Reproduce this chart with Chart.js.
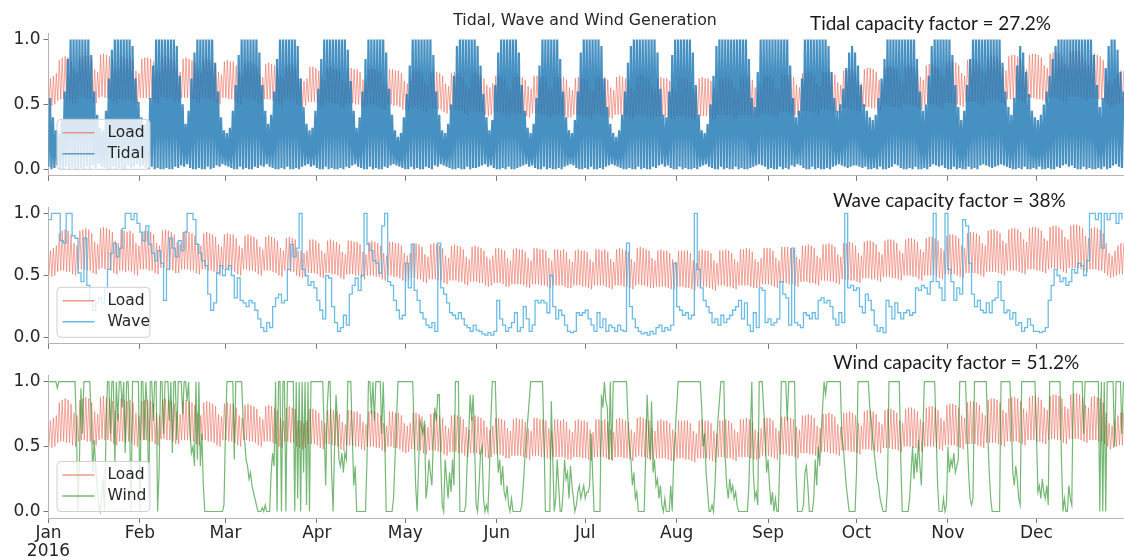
<!DOCTYPE html>
<html>
<head>
<meta charset="utf-8">
<title>Tidal, Wave and Wind Generation</title>
<script src="https://cdn.jsdelivr.net/npm/chart.js@4.4.1/dist/chart.umd.min.js"></script>
<style>
  body { margin: 0; background: #fff; }
  #wrap { position: relative; width: 1124px; height: 557px; overflow: hidden; font-family: "DejaVu Sans", sans-serif; }
  canvas { position: absolute; left: 0; }
  .title { position: absolute; left: 0; width: 1170px; top: 10px; text-align: center; font-size: 15.8px; color: #262626; line-height: 20px; z-index: 2; }
  .cf { position: absolute; font-family: Lato, "Open Sans", sans-serif; font-size: 19px; color: #1a1a1a; line-height: 22px; white-space: nowrap; z-index: 2; }
</style>
</head>
<body>
<div id="wrap">
  <canvas id="tidal" width="1124" height="189" style="top:0"></canvas>
  <canvas id="wave" width="1124" height="163" style="top:194px"></canvas>
  <canvas id="wind" width="1124" height="195" style="top:362px"></canvas>
  <div class="title">Tidal, Wave and Wind Generation</div>
  <div class="cf" style="left:810px; top:12px">Tidal capacity factor = 27.2%</div>
  <div class="cf" style="left:833px; top:189px">Wave capacity factor = 38%</div>
  <div class="cf" style="left:833px; top:351px">Wind capacity factor = 51.2%</div>
</div>
<script>
// x axis: day of year 2016 (0 = 1 Jan), month starts get the ticks
const monthTicks = [0, 31, 60, 91, 121, 152, 182, 213, 244, 274, 305, 335];
const monthLabels = ["Jan", "Feb", "Mar", "Apr", "May", "Jun", "Jul", "Aug", "Sep", "Oct", "Nov", "Dec"];
const yearLabel = "2016";
const yTicks = [0, 0.5, 1];

// all series in percent of capacity
// load: daily peak and night trough (first row Fri-Sun, then Mon..Sun weeks)
const loadHigh = [
  70,72,74,
  84,86,87,86,83,76,74, 86,87,88,87,84,77,75, 88,89,88,87,85,78,76, 87,86,85,86,84,76,74,
  85,86,86,85,83,76,74, 86,87,86,85,83,77,75, 85,86,85,84,82,76,74, 84,85,84,83,81,75,73,
  83,84,83,83,80,74,72, 82,83,82,81,79,73,71, 81,82,81,80,78,72,70, 80,81,80,79,70,70,68,
  70,79,79,78,76,70,68, 78,79,78,77,75,69,67, 78,78,77,77,75,69,67, 77,78,77,76,74,68,66,
  77,77,76,76,74,68,66, 68,76,76,75,73,67,65, 75,76,75,74,72,66,64, 74,75,74,73,71,65,63,
  73,74,73,72,70,65,63, 66,72,72,71,70,64,62, 71,72,71,71,69,64,62, 72,72,71,71,70,64,62,
  71,71,70,71,69,63,61, 70,71,70,70,69,63,61, 71,71,70,71,69,63,61, 71,72,71,70,69,63,61,
  72,73,72,71,70,64,62, 70,71,70,70,68,63,61, 70,70,70,70,68,62,60, 70,71,70,70,68,62,60,
  70,70,71,70,68,63,61, 71,71,72,71,69,63,61, 64,72,72,72,70,64,62, 73,73,73,72,71,65,63,
  74,74,75,74,72,66,64, 75,75,76,75,73,67,65, 76,76,77,76,74,68,66, 77,78,78,77,75,69,67,
  78,79,79,78,76,70,68, 79,80,80,79,77,71,69, 80,81,81,80,78,72,70, 82,83,83,82,80,74,72,
  84,85,85,84,82,76,74, 86,87,87,86,84,78,76, 87,88,88,87,85,79,77, 88,89,89,88,86,80,78,
  89,90,90,89,87,81,79, 90,91,91,90,88,82,80, 88,89,88,87,84,76,68, 66,70,74,76,76
];
const loadLow = [
  50,49,50,
  53,54,54,53,53,51,50, 54,55,55,54,54,52,51, 55,56,55,55,54,52,51, 54,54,53,54,53,51,50,
  55,55,55,54,54,52,51, 56,56,55,55,54,52,52, 55,55,55,54,54,52,51, 55,55,54,54,53,51,50,
  55,55,54,54,53,51,50, 55,55,54,54,53,51,50, 54,54,54,53,52,50,49, 54,54,53,53,50,49,48,
  49,52,52,52,51,49,48, 52,52,51,51,50,48,47, 51,51,51,50,50,48,47, 50,50,50,49,49,47,46,
  50,50,49,49,48,46,45, 46,48,48,47,47,45,44, 47,47,47,46,46,44,43, 46,46,46,45,45,43,42,
  45,45,45,44,44,42,41, 42,44,44,44,43,41,41, 43,43,43,43,42,41,40, 43,43,43,42,42,41,40,
  42,42,42,42,41,40,40, 42,42,42,41,41,40,39, 42,42,42,42,41,40,39, 42,42,42,41,41,40,39,
  42,43,42,42,41,40,40, 41,41,41,41,40,39,39, 41,41,41,40,40,39,38, 41,41,41,41,40,39,38,
  42,42,42,41,41,40,39, 42,42,42,42,41,40,40, 41,43,43,43,42,41,40, 44,44,44,43,43,42,41,
  45,45,45,44,44,43,42, 46,46,46,45,45,44,43, 47,47,47,46,46,45,44, 48,48,48,47,47,46,45,
  49,49,49,48,48,47,46, 50,50,50,49,49,47,46, 50,50,50,50,49,48,47, 51,51,51,51,50,49,48,
  52,52,52,52,51,50,49, 53,53,53,53,52,51,50, 54,54,54,54,53,52,51, 55,55,55,54,54,53,52,
  55,56,56,55,55,53,52, 56,56,56,56,55,54,53, 55,55,55,54,54,52,50, 48,49,50,51,51
];

// tidal: daily peak (spring/neap cycle) and slack-water minimum
const tidalHigh = [
  55,40,30,28,38,60,85,100,100,100, 100,100,100,100,88,60,42,32,30,45,
  70,92,100,100,100,100,100,100,95,70, 52,40,35,38,55,80,100,100,100,100,
  100,100,100,95,72,50,35,45,70,90, 100,100,100,100,100,100,82,60,40,30,
  28,32,45,65,88,100,100,100,100,100, 100,90,65,45,35,42,60,85,100,100,
  100,100,100,100,95,70,48,35,30,32, 45,62,85,100,100,100,100,100,100,100,
  100,92,68,45,32,40,60,85,100,100, 100,100,100,100,90,62,42,30,25,28,
  40,58,80,100,100,100,100,100,100,100, 88,60,42,30,28,35,50,72,95,100,
  100,100,100,100,100,95,80,58,40,30, 38,65,90,100,100,100,100,100,100,90,
  65,45,32,28,35,55,80,100,100,100, 100,100,100,85,60,40,30,28,38,60,
  90,100,100,100,100,100,100,95,70,48, 35,28,25,30,42,60,82,95,100,100,
  100,100,100,100,100,100,90,62,42,40, 60,88,100,100,100,100,100,100,90,65,
  42,30,28,35,50,72,95,100,100,100, 100,100,100,100,100,100,100,85,55,48,
  75,100,100,100,100,100,100,100,100,100, 100,80,55,40,45,70,100,100,100,100,
  100,100,100,100,95,75,55,45,50,62, 78,90,95,90,80,65,50,45,40,38,
  42,55,70,85,100,100,100,100,100,100, 100,100,100,100,85,60,45,50,72,95,
  100,100,100,100,100,100,88,65,48,38, 45,65,85,100,100,100,100,100,100,100,
  100,100,100,82,60,48,42,55,80,95, 90,75,58,45,40,38,42,50,60,72,
  85,95,100,100,100,100,100,100,100,100, 100,100,100,100,88,65,48,55,78,95,
  100,100,92,75,60
];
const tidalLow = [
  2,0,1,3,0,0,2,0,1,0, 0,1,0,2,0,3,1,4,2,1, 0,0,2,0,1,0,0,3,1,2, 4,2,3,1,0,2,0,1,0,0,
  1,0,0,2,1,3,2,4,1,0, 0,1,0,0,2,0,1,3,2,4, 3,2,1,0,0,2,0,1,0,0, 2,1,3,2,4,2,1,0,0,1,
  0,2,0,0,1,0,2,3,4,2, 3,1,0,0,2,0,1,0,0,1, 0,2,1,3,4,2,1,0,0,2, 0,1,0,0,2,1,3,4,3,2,
  1,0,0,2,0,1,0,0,2,1, 0,3,2,4,3,2,1,0,0,1, 0,0,2,0,1,1,2,3,4,2, 3,1,0,0,1,0,2,0,0,1,
  2,3,4,2,3,1,0,0,2,0, 1,0,0,1,0,2,3,4,3,1, 0,0,1,0,2,0,0,1,0,2, 3,4,3,2,1,0,0,1,0,0,
  2,0,1,0,0,2,1,3,4,2, 3,1,0,0,2,0,1,0,0,1, 0,2,3,4,2,1,0,0,2,0, 1,0,0,2,0,1,0,0,1,2,
  3,4,3,2,0,1,0,0,2,0, 1,0,3,2,4,3,1,0,0,2, 0,1,0,0,1,0,2,3,4,3, 2,1,2,3,3,2,1,2,0,0,
  1,0,2,0,0,1,2,4,3,1, 0,0,1,0,2,0,0,1,0,2, 4,3,2,3,1,0,0,2,0,1, 0,0,2,0,1,0,3,4,3,2,
  1,2,3,4,3,2,1,0,0,1, 0,2,0,0,1,0,2,0,0,1, 0,0,2,1,3,4,2,3,1,0, 0,2,0,1,0,0,1,0,2,0,
  1,3,4,2,1
];

// wave: one value per day
const wave = [
  95,100,100,100,78,76,100,100,82,80, 52,45,80,42,30,22,28,32,28,40,
  55,68,76,65,72,88,100,100,95,100, 92,85,78,90,75,68,62,70,60,30,
  55,80,72,65,78,70,85,100,100,95, 75,68,62,58,35,22,28,52,58,50,
  55,58,50,32,48,30,28,25,30,28, 22,15,8,5,12,8,25,32,35,28,
  30,55,75,65,72,100,55,50,42,45, 40,30,22,15,50,48,25,12,5,8,
  18,10,35,42,48,38,50,100,75,70, 62,60,52,90,100,45,42,30,22,15,
  18,60,40,75,38,30,20,15,10,8, 12,5,76,40,35,28,20,18,15,20,
  15,10,8,5,10,6,5,3,2,4, 2,5,30,15,10,5,8,12,20,5,
  8,25,15,5,10,30,28,30,28,20, 50,25,15,22,18,10,5,4,5,20,
  18,20,22,15,10,5,20,8,15,5, 10,8,5,10,6,5,76,25,15,8,
  5,3,4,2,5,3,8,10,5,8, 6,10,60,25,22,18,20,15,18,100,
  55,40,30,25,20,12,15,10,18,12, 15,18,22,25,30,15,28,10,5,20,
  8,40,38,12,15,10,12,15,45,35, 32,10,72,12,10,8,20,18,15,20,
  15,30,32,28,30,25,15,10,20,12, 100,40,42,38,40,25,20,35,30,22,
  10,5,8,4,30,25,15,28,20,15, 20,22,18,20,40,38,42,40,35,45,
  100,45,40,30,100,55,45,30,40,35, 95,90,60,35,25,30,22,20,28,20,
  30,32,45,30,20,22,15,20,10,12, 5,8,15,10,5,5,4,5,8,30,
  42,55,50,45,48,42,45,55,52,60, 58,50,62,100,100,95,100,72,100,95,
  100,100,92,100,95
];

// wind: two values per day (00h, 12h)
const wind = [
  100,100,100,100,100,100,95,100,100,100, 100,100,100,100,100,100,100,100,100,60,
  0,40,95,60,100,100,100,100,100,70, 30,55,35,20,5,0,10,25,0,60,
  100,100,60,100,100,35,100,70,100,100, 80,100,45,100,100,65,0,100,100,100,
  100,100,0,100,100,55,100,80,10,100, 100,70,100,100,0,30,100,100,60,100,
  100,100,70,100,45,100,100,55,100,100, 100,75,100,100,85,100,60,45,50,35,
  100,40,100,35,60,20,0,0,0,0, 0,0,0,0,0,0,0,0,0,5,
  60,100,100,100,100,100,40,100,100,100, 100,100,70,55,40,35,25,30,20,15,
  10,5,0,0,0,3,0,5,0,0, 0,30,45,35,100,0,100,100,0,100,
  100,0,100,100,100,100,100,0,100,10, 100,0,100,30,100,5,100,0,100,100,
  100,100,100,100,100,100,100,60,20,80, 100,100,30,0,50,90,70,40,35,45,
  30,45,40,100,100,100,60,20,35,0, 0,0,0,0,0,0,40,100,100,75,
  100,70,100,100,100,100,60,100,60,0, 0,0,0,0,10,40,70,100,100,100,
  100,100,100,100,100,100,100,100,60,20, 0,35,70,65,60,70,10,20,40,30,
  20,55,80,70,90,90,40,5,0,40, 25,10,30,15,40,20,100,100,100,0,
  0,0,0,5,40,60,90,70,90,50, 5,0,20,45,50,10,0,5,0,30,
  70,100,100,100,60,30,40,20,35,15, 10,20,5,0,10,0,0,0,0,0,
  0,5,20,40,55,70,85,100,100,100, 100,100,100,100,100,100,60,0,0,0,
  0,85,40,0,10,40,20,0,0,15, 40,25,30,10,35,20,10,0,5,15,
  20,10,15,20,10,15,15,20,60,30, 0,0,0,0,0,90,80,100,85,80,
  40,100,40,100,100,100,100,100,100,100, 100,100,100,70,50,40,20,30,10,15,
  0,0,0,0,0,45,90,60,40,85, 30,40,20,25,10,20,5,0,10,0,
  0,0,20,0,40,60,80,100,100,100, 100,100,100,100,100,100,100,100,100,100,
  100,100,100,80,50,60,30,15,0,0, 5,0,20,50,70,85,100,100,100,40,
  20,10,25,15,20,10,15,5,0,0, 0,0,0,0,0,20,60,100,30,10,
  15,5,100,100,100,80,60,30,40,20, 5,15,0,10,0,0,40,100,100,100,
  100,70,100,100,100,100,100,30,0,0, 0,0,5,30,35,20,0,0,0,10,
  40,20,50,35,60,80,100,90,100,100, 100,100,100,100,100,100,100,100,60,50,
  35,20,10,0,0,0,0,0,30,100, 100,100,100,100,100,100,100,80,70,55,
  45,35,25,20,10,5,0,0,0,20, 100,100,100,100,100,100,100,100,40,0,
  0,0,0,0,10,30,50,25,45,30, 55,35,20,60,100,100,100,100,100,100,
  100,100,60,20,0,0,0,10,0,5, 50,30,40,35,45,30,35,40,100,100,
  100,100,100,60,30,10,5,10,100,100, 100,100,100,100,100,100,100,60,30,10,
  0,0,0,0,0,0,100,100,100,100, 100,100,100,70,30,20,35,25,10,5,
  100,100,100,100,100,100,100,100,100,100, 60,15,20,10,25,15,10,20,5,100,
  100,100,100,100,100,100,100,40,0,10, 0,0,20,10,5,100,100,100,100,100,
  100,100,60,100,100,100,100,100,100,100, 100,100,100,0,100,0,100,0,100,100,
  100,100,100,50,100,100,100,100,60,100
];

// build x/y points
const loadPts = [];
for (let d = 0; d < Math.min(loadHigh.length, loadLow.length); d++) {
  loadPts.push({ x: d + 0.15, y: loadLow[d] / 100 }, { x: d + 0.65, y: loadHigh[d] / 100 });
}
const tidalPts = [];
for (let d = 0; d < Math.min(tidalHigh.length, tidalLow.length); d++) {
  tidalPts.push({ x: d, y: tidalLow[d] / 100 }, { x: d + 0.5, y: tidalHigh[d] / 100 });
}
const wavePts = wave.map((v, d) => ({ x: d, y: v / 100 }));
const windPts = wind.map((v, i) => ({ x: i / 2, y: v / 100 }));

const TXT = "#262626";
const FONT = "DejaVu Sans";

// matplotlib-like legend box in the lower left of the axes
const boxLegend = {
  id: "boxLegend",
  afterDatasetsDraw(chart) {
    const { ctx, chartArea: a } = chart;
    const w = 93, h = 50, x = a.left + 8, y = a.bottom - 7 - h;
    ctx.save();
    ctx.beginPath();
    if (ctx.roundRect) ctx.roundRect(x + 0.5, y + 0.5, w, h, 4); else ctx.rect(x + 0.5, y + 0.5, w, h);
    ctx.fillStyle = "rgba(255,255,255,0.8)";
    ctx.fill();
    ctx.strokeStyle = "#cfcfcf";
    ctx.lineWidth = 1;
    ctx.stroke();
    ctx.font = `15.5px "${FONT}"`;
    ctx.textBaseline = "middle";
    chart.data.datasets.forEach((ds, i) => {
      const yy = y + 14 + i * 21;
      ctx.strokeStyle = ds.legendColor || ds.borderColor;
      ctx.lineWidth = 1.5;
      ctx.beginPath(); ctx.moveTo(x + 6, yy); ctx.lineTo(x + 38, yy); ctx.stroke();
      ctx.fillStyle = TXT;
      ctx.fillText(ds.label, x + 51, yy);
    });
    ctx.restore();
  }
};

function panel(id, gen, showDates, padTop, axisH) {
  return new Chart(document.getElementById(id), {
    type: "line",
    data: {
      datasets: [
        { label: "Load", data: loadPts, borderColor: "rgba(236,112,96,0.62)", legendColor: "rgba(236,112,96,0.7)",
          borderWidth: 1, pointRadius: 0, tension: 0, order: 1 },
        { label: gen.label, data: gen.data, borderColor: gen.color, legendColor: gen.legend,
          borderWidth: gen.width, pointRadius: 0, tension: 0, stepped: gen.stepped || false, order: 0 }
      ]
    },
    options: {
      responsive: false,
      maintainAspectRatio: false,
      animation: false,
      events: [],
      layout: { padding: { top: padTop, left: 0, right: 0, bottom: 0 } },
      plugins: { legend: { display: false }, tooltip: { enabled: false } },
      scales: {
        x: {
          type: "linear", min: 0, max: 364.7,
          afterBuildTicks: (s) => { s.ticks = monthTicks.map((v) => ({ value: v })); },
          afterFit: (s) => { s.height = axisH; },
          ticks: {
            display: showDates, autoSkip: false, maxRotation: 0, padding: 2,
            color: TXT, font: { family: FONT, size: 17, lineHeight: 1.05 },
            callback: (v, i) => (i === 0 ? [monthLabels[0], yearLabel] : monthLabels[i])
          },
          grid: { drawOnChartArea: false, color: "#777", tickLength: 5 },
          border: { color: "#b5b5b5", width: 1 }
        },
        y: {
          min: -0.05, max: 1.05,
          afterBuildTicks: (s) => { s.ticks = yTicks.map((v) => ({ value: v })); },
          afterFit: (s) => { s.width = 48.5; },
          ticks: { padding: 3, color: TXT, font: { family: FONT, size: 17 }, callback: (v) => Number(v).toFixed(1) },
          grid: { drawOnChartArea: false, color: "#777", tickLength: 5 },
          border: { color: "#b5b5b5", width: 1 }
        }
      }
    },
    plugins: [boxLegend]
  });
}

panel("tidal", { label: "Tidal", data: tidalPts, color: "rgba(31,119,180,0.82)", legend: "rgba(31,119,180,0.7)", width: 2.2 }, false, 33, 8);
panel("wave", { label: "Wave", data: wavePts, color: "rgba(80,176,226,0.85)", legend: "rgba(80,176,226,0.85)", width: 1.3, stepped: true }, false, 8, 8);
panel("wind", { label: "Wind", data: windPts, color: "rgba(25,135,25,0.6)", legend: "rgba(30,140,30,0.6)", width: 1.2 }, true, 7, 39);
</script>
</body>
</html>
